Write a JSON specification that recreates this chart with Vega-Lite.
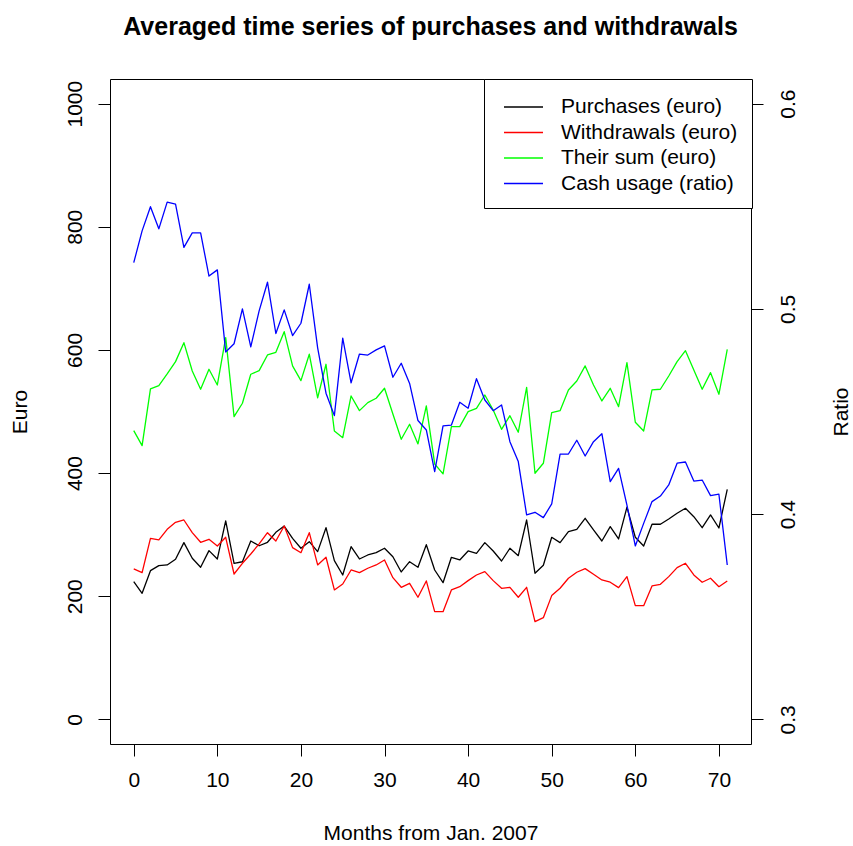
{
  "$schema": "https://vega.github.io/schema/vega-lite/v6.json",
  "width": 641,
  "height": 665,
  "autosize": {"type": "none"},
  "padding": {"left": 110, "top": 79, "right": 102, "bottom": 102},
  "background": "white",
  "title": {
    "text": "Averaged time series of purchases and withdrawals",
    "font": "Liberation Sans",
    "fontSize": 25,
    "fontWeight": "bold",
    "color": "black",
    "anchor": "middle",
    "frame": "group",
    "baseline": "alphabetic",
    "offset": 19
  },
  "config": {
    "view": {"stroke": "black", "strokeWidth": 1},
    "axis": {
      "domain": false,
      "grid": false,
      "ticks": true,
      "tickColor": "black",
      "tickWidth": 1,
      "tickSize": 12,
      "labelFont": "Liberation Sans",
      "labelFontSize": 21,
      "labelColor": "black",
      "titleFont": "Liberation Sans",
      "titleFontSize": 21,
      "titleFontWeight": "normal",
      "titleColor": "black"
    },
    "legend": {
      "orient": "none",
      "legendX": 374,
      "legendY": 0,
      "strokeColor": "black",
      "fillColor": "white",
      "padding": 14,
      "symbolType": "M-1.5,0H1.5",
      "symbolSize": 676,
      "symbolStrokeWidth": 1.3,
      "symbolOffset": 11.5,
      "labelOffset": 23.5,
      "labelFont": "Liberation Sans",
      "labelFontSize": 21,
      "labelColor": "black",
      "labelLimit": 400,
      "rowPadding": 1.5
    }
  },
  "datasets": {
    "euro": [
      {"month": 0, "series": "Purchases (euro)", "value": 223.6},
      {"month": 1, "series": "Purchases (euro)", "value": 204.8},
      {"month": 2, "series": "Purchases (euro)", "value": 241.5},
      {"month": 3, "series": "Purchases (euro)", "value": 249.6},
      {"month": 4, "series": "Purchases (euro)", "value": 250.8},
      {"month": 5, "series": "Purchases (euro)", "value": 260.0},
      {"month": 6, "series": "Purchases (euro)", "value": 287.0},
      {"month": 7, "series": "Purchases (euro)", "value": 261.6},
      {"month": 8, "series": "Purchases (euro)", "value": 247.0},
      {"month": 9, "series": "Purchases (euro)", "value": 274.0},
      {"month": 10, "series": "Purchases (euro)", "value": 260.5},
      {"month": 11, "series": "Purchases (euro)", "value": 322.2},
      {"month": 12, "series": "Purchases (euro)", "value": 253.5},
      {"month": 13, "series": "Purchases (euro)", "value": 256.0},
      {"month": 14, "series": "Purchases (euro)", "value": 289.7},
      {"month": 15, "series": "Purchases (euro)", "value": 282.0},
      {"month": 16, "series": "Purchases (euro)", "value": 287.6},
      {"month": 17, "series": "Purchases (euro)", "value": 303.8},
      {"month": 18, "series": "Purchases (euro)", "value": 314.0},
      {"month": 19, "series": "Purchases (euro)", "value": 294.0},
      {"month": 20, "series": "Purchases (euro)", "value": 277.9},
      {"month": 21, "series": "Purchases (euro)", "value": 288.6},
      {"month": 22, "series": "Purchases (euro)", "value": 272.4},
      {"month": 23, "series": "Purchases (euro)", "value": 311.3},
      {"month": 24, "series": "Purchases (euro)", "value": 257.7},
      {"month": 25, "series": "Purchases (euro)", "value": 234.5},
      {"month": 26, "series": "Purchases (euro)", "value": 280.5},
      {"month": 27, "series": "Purchases (euro)", "value": 260.5},
      {"month": 28, "series": "Purchases (euro)", "value": 267.0},
      {"month": 29, "series": "Purchases (euro)", "value": 270.7},
      {"month": 30, "series": "Purchases (euro)", "value": 277.9},
      {"month": 31, "series": "Purchases (euro)", "value": 264.2},
      {"month": 32, "series": "Purchases (euro)", "value": 239.4},
      {"month": 33, "series": "Purchases (euro)", "value": 256.1},
      {"month": 34, "series": "Purchases (euro)", "value": 247.0},
      {"month": 35, "series": "Purchases (euro)", "value": 283.7},
      {"month": 36, "series": "Purchases (euro)", "value": 242.6},
      {"month": 37, "series": "Purchases (euro)", "value": 222.0},
      {"month": 38, "series": "Purchases (euro)", "value": 263.2},
      {"month": 39, "series": "Purchases (euro)", "value": 258.9},
      {"month": 40, "series": "Purchases (euro)", "value": 273.5},
      {"month": 41, "series": "Purchases (euro)", "value": 269.7},
      {"month": 42, "series": "Purchases (euro)", "value": 287.0},
      {"month": 43, "series": "Purchases (euro)", "value": 273.5},
      {"month": 44, "series": "Purchases (euro)", "value": 257.2},
      {"month": 45, "series": "Purchases (euro)", "value": 277.9},
      {"month": 46, "series": "Purchases (euro)", "value": 265.9},
      {"month": 47, "series": "Purchases (euro)", "value": 323.8},
      {"month": 48, "series": "Purchases (euro)", "value": 237.3},
      {"month": 49, "series": "Purchases (euro)", "value": 250.3},
      {"month": 50, "series": "Purchases (euro)", "value": 295.7},
      {"month": 51, "series": "Purchases (euro)", "value": 287.0},
      {"month": 52, "series": "Purchases (euro)", "value": 304.9},
      {"month": 53, "series": "Purchases (euro)", "value": 308.7},
      {"month": 54, "series": "Purchases (euro)", "value": 326.6},
      {"month": 55, "series": "Purchases (euro)", "value": 307.6},
      {"month": 56, "series": "Purchases (euro)", "value": 289.7},
      {"month": 57, "series": "Purchases (euro)", "value": 313.0},
      {"month": 58, "series": "Purchases (euro)", "value": 293.0},
      {"month": 59, "series": "Purchases (euro)", "value": 344.5},
      {"month": 60, "series": "Purchases (euro)", "value": 295.7},
      {"month": 61, "series": "Purchases (euro)", "value": 281.6},
      {"month": 62, "series": "Purchases (euro)", "value": 316.9},
      {"month": 63, "series": "Purchases (euro)", "value": 316.9},
      {"month": 64, "series": "Purchases (euro)", "value": 325.4},
      {"month": 65, "series": "Purchases (euro)", "value": 334.7},
      {"month": 66, "series": "Purchases (euro)", "value": 342.8},
      {"month": 67, "series": "Purchases (euro)", "value": 329.2},
      {"month": 68, "series": "Purchases (euro)", "value": 311.3},
      {"month": 69, "series": "Purchases (euro)", "value": 332.0},
      {"month": 70, "series": "Purchases (euro)", "value": 310.8},
      {"month": 71, "series": "Purchases (euro)", "value": 373.7},
      {"month": 0, "series": "Withdrawals (euro)", "value": 244.3},
      {"month": 1, "series": "Withdrawals (euro)", "value": 238.3},
      {"month": 2, "series": "Withdrawals (euro)", "value": 294.0},
      {"month": 3, "series": "Withdrawals (euro)", "value": 291.4},
      {"month": 4, "series": "Withdrawals (euro)", "value": 308.7},
      {"month": 5, "series": "Withdrawals (euro)", "value": 320.0},
      {"month": 6, "series": "Withdrawals (euro)", "value": 323.8},
      {"month": 7, "series": "Withdrawals (euro)", "value": 303.2},
      {"month": 8, "series": "Withdrawals (euro)", "value": 287.6},
      {"month": 9, "series": "Withdrawals (euro)", "value": 292.5},
      {"month": 10, "series": "Withdrawals (euro)", "value": 281.6},
      {"month": 11, "series": "Withdrawals (euro)", "value": 295.7},
      {"month": 12, "series": "Withdrawals (euro)", "value": 236.1},
      {"month": 13, "series": "Withdrawals (euro)", "value": 253.5},
      {"month": 14, "series": "Withdrawals (euro)", "value": 268.6},
      {"month": 15, "series": "Withdrawals (euro)", "value": 284.9},
      {"month": 16, "series": "Withdrawals (euro)", "value": 303.2},
      {"month": 17, "series": "Withdrawals (euro)", "value": 289.7},
      {"month": 18, "series": "Withdrawals (euro)", "value": 314.0},
      {"month": 19, "series": "Withdrawals (euro)", "value": 278.9},
      {"month": 20, "series": "Withdrawals (euro)", "value": 270.7},
      {"month": 21, "series": "Withdrawals (euro)", "value": 303.2},
      {"month": 22, "series": "Withdrawals (euro)", "value": 250.8},
      {"month": 23, "series": "Withdrawals (euro)", "value": 263.3},
      {"month": 24, "series": "Withdrawals (euro)", "value": 210.2},
      {"month": 25, "series": "Withdrawals (euro)", "value": 219.9},
      {"month": 26, "series": "Withdrawals (euro)", "value": 242.6},
      {"month": 27, "series": "Withdrawals (euro)", "value": 238.3},
      {"month": 28, "series": "Withdrawals (euro)", "value": 245.4},
      {"month": 29, "series": "Withdrawals (euro)", "value": 250.8},
      {"month": 30, "series": "Withdrawals (euro)", "value": 258.9},
      {"month": 31, "series": "Withdrawals (euro)", "value": 230.1},
      {"month": 32, "series": "Withdrawals (euro)", "value": 214.5},
      {"month": 33, "series": "Withdrawals (euro)", "value": 221.0},
      {"month": 34, "series": "Withdrawals (euro)", "value": 198.3},
      {"month": 35, "series": "Withdrawals (euro)", "value": 224.8},
      {"month": 36, "series": "Withdrawals (euro)", "value": 174.9},
      {"month": 37, "series": "Withdrawals (euro)", "value": 174.9},
      {"month": 38, "series": "Withdrawals (euro)", "value": 210.2},
      {"month": 39, "series": "Withdrawals (euro)", "value": 215.5},
      {"month": 40, "series": "Withdrawals (euro)", "value": 225.3},
      {"month": 41, "series": "Withdrawals (euro)", "value": 234.5},
      {"month": 42, "series": "Withdrawals (euro)", "value": 239.9},
      {"month": 43, "series": "Withdrawals (euro)", "value": 225.3},
      {"month": 44, "series": "Withdrawals (euro)", "value": 212.9},
      {"month": 45, "series": "Withdrawals (euro)", "value": 214.5},
      {"month": 46, "series": "Withdrawals (euro)", "value": 198.3},
      {"month": 47, "series": "Withdrawals (euro)", "value": 214.5},
      {"month": 48, "series": "Withdrawals (euro)", "value": 158.7},
      {"month": 49, "series": "Withdrawals (euro)", "value": 165.2},
      {"month": 50, "series": "Withdrawals (euro)", "value": 201.0},
      {"month": 51, "series": "Withdrawals (euro)", "value": 212.9},
      {"month": 52, "series": "Withdrawals (euro)", "value": 229.2},
      {"month": 53, "series": "Withdrawals (euro)", "value": 238.9},
      {"month": 54, "series": "Withdrawals (euro)", "value": 244.8},
      {"month": 55, "series": "Withdrawals (euro)", "value": 235.7},
      {"month": 56, "series": "Withdrawals (euro)", "value": 226.4},
      {"month": 57, "series": "Withdrawals (euro)", "value": 222.7},
      {"month": 58, "series": "Withdrawals (euro)", "value": 213.9},
      {"month": 59, "series": "Withdrawals (euro)", "value": 231.8},
      {"month": 60, "series": "Withdrawals (euro)", "value": 184.7},
      {"month": 61, "series": "Withdrawals (euro)", "value": 184.7},
      {"month": 62, "series": "Withdrawals (euro)", "value": 216.7},
      {"month": 63, "series": "Withdrawals (euro)", "value": 219.4},
      {"month": 64, "series": "Withdrawals (euro)", "value": 231.8},
      {"month": 65, "series": "Withdrawals (euro)", "value": 246.4},
      {"month": 66, "series": "Withdrawals (euro)", "value": 253.5},
      {"month": 67, "series": "Withdrawals (euro)", "value": 234.5},
      {"month": 68, "series": "Withdrawals (euro)", "value": 222.7},
      {"month": 69, "series": "Withdrawals (euro)", "value": 229.2},
      {"month": 70, "series": "Withdrawals (euro)", "value": 215.5},
      {"month": 71, "series": "Withdrawals (euro)", "value": 224.8},
      {"month": 0, "series": "Their sum (euro)", "value": 468.9},
      {"month": 1, "series": "Their sum (euro)", "value": 444.5},
      {"month": 2, "series": "Their sum (euro)", "value": 536.6},
      {"month": 3, "series": "Their sum (euro)", "value": 542.0},
      {"month": 4, "series": "Their sum (euro)", "value": 561.0},
      {"month": 5, "series": "Their sum (euro)", "value": 581.0},
      {"month": 6, "series": "Their sum (euro)", "value": 611.8},
      {"month": 7, "series": "Their sum (euro)", "value": 565.8},
      {"month": 8, "series": "Their sum (euro)", "value": 536.1},
      {"month": 9, "series": "Their sum (euro)", "value": 568.6},
      {"month": 10, "series": "Their sum (euro)", "value": 543.1},
      {"month": 11, "series": "Their sum (euro)", "value": 620.0},
      {"month": 12, "series": "Their sum (euro)", "value": 491.6},
      {"month": 13, "series": "Their sum (euro)", "value": 513.4},
      {"month": 14, "series": "Their sum (euro)", "value": 560.5},
      {"month": 15, "series": "Their sum (euro)", "value": 566.3},
      {"month": 16, "series": "Their sum (euro)", "value": 591.8},
      {"month": 17, "series": "Their sum (euro)", "value": 596.2},
      {"month": 18, "series": "Their sum (euro)", "value": 629.7},
      {"month": 19, "series": "Their sum (euro)", "value": 574.0},
      {"month": 20, "series": "Their sum (euro)", "value": 550.1},
      {"month": 21, "series": "Their sum (euro)", "value": 593.0},
      {"month": 22, "series": "Their sum (euro)", "value": 522.3},
      {"month": 23, "series": "Their sum (euro)", "value": 576.7},
      {"month": 24, "series": "Their sum (euro)", "value": 468.4},
      {"month": 25, "series": "Their sum (euro)", "value": 457.5},
      {"month": 26, "series": "Their sum (euro)", "value": 525.2},
      {"month": 27, "series": "Their sum (euro)", "value": 501.4},
      {"month": 28, "series": "Their sum (euro)", "value": 514.4},
      {"month": 29, "series": "Their sum (euro)", "value": 521.5},
      {"month": 30, "series": "Their sum (euro)", "value": 537.7},
      {"month": 31, "series": "Their sum (euro)", "value": 496.0},
      {"month": 32, "series": "Their sum (euro)", "value": 454.9},
      {"month": 33, "series": "Their sum (euro)", "value": 479.3},
      {"month": 34, "series": "Their sum (euro)", "value": 447.3},
      {"month": 35, "series": "Their sum (euro)", "value": 509.0},
      {"month": 36, "series": "Their sum (euro)", "value": 414.8},
      {"month": 37, "series": "Their sum (euro)", "value": 398.6},
      {"month": 38, "series": "Their sum (euro)", "value": 475.4},
      {"month": 39, "series": "Their sum (euro)", "value": 475.4},
      {"month": 40, "series": "Their sum (euro)", "value": 499.7},
      {"month": 41, "series": "Their sum (euro)", "value": 505.2},
      {"month": 42, "series": "Their sum (euro)", "value": 526.8},
      {"month": 43, "series": "Their sum (euro)", "value": 502.5},
      {"month": 44, "series": "Their sum (euro)", "value": 471.1},
      {"month": 45, "series": "Their sum (euro)", "value": 493.2},
      {"month": 46, "series": "Their sum (euro)", "value": 466.3},
      {"month": 47, "series": "Their sum (euro)", "value": 539.3},
      {"month": 48, "series": "Their sum (euro)", "value": 399.7},
      {"month": 49, "series": "Their sum (euro)", "value": 415.9},
      {"month": 50, "series": "Their sum (euro)", "value": 498.1},
      {"month": 51, "series": "Their sum (euro)", "value": 501.4},
      {"month": 52, "series": "Their sum (euro)", "value": 535.0},
      {"month": 53, "series": "Their sum (euro)", "value": 549.6},
      {"month": 54, "series": "Their sum (euro)", "value": 574.0},
      {"month": 55, "series": "Their sum (euro)", "value": 543.1},
      {"month": 56, "series": "Their sum (euro)", "value": 517.1},
      {"month": 57, "series": "Their sum (euro)", "value": 537.7},
      {"month": 58, "series": "Their sum (euro)", "value": 507.8},
      {"month": 59, "series": "Their sum (euro)", "value": 579.3},
      {"month": 60, "series": "Their sum (euro)", "value": 482.5},
      {"month": 61, "series": "Their sum (euro)", "value": 468.4},
      {"month": 62, "series": "Their sum (euro)", "value": 535.0},
      {"month": 63, "series": "Their sum (euro)", "value": 536.1},
      {"month": 64, "series": "Their sum (euro)", "value": 557.7},
      {"month": 65, "series": "Their sum (euro)", "value": 581.0},
      {"month": 66, "series": "Their sum (euro)", "value": 598.8},
      {"month": 67, "series": "Their sum (euro)", "value": 567.4},
      {"month": 68, "series": "Their sum (euro)", "value": 536.1},
      {"month": 69, "series": "Their sum (euro)", "value": 563.1},
      {"month": 70, "series": "Their sum (euro)", "value": 528.0},
      {"month": 71, "series": "Their sum (euro)", "value": 601.0}
    ],
    "ratio": [
      {"month": 0, "series": "Cash usage (ratio)", "ratio": 0.5225},
      {"month": 1, "series": "Cash usage (ratio)", "ratio": 0.538},
      {"month": 2, "series": "Cash usage (ratio)", "ratio": 0.5498},
      {"month": 3, "series": "Cash usage (ratio)", "ratio": 0.539},
      {"month": 4, "series": "Cash usage (ratio)", "ratio": 0.552},
      {"month": 5, "series": "Cash usage (ratio)", "ratio": 0.551},
      {"month": 6, "series": "Cash usage (ratio)", "ratio": 0.530},
      {"month": 7, "series": "Cash usage (ratio)", "ratio": 0.537},
      {"month": 8, "series": "Cash usage (ratio)", "ratio": 0.537},
      {"month": 9, "series": "Cash usage (ratio)", "ratio": 0.516},
      {"month": 10, "series": "Cash usage (ratio)", "ratio": 0.519},
      {"month": 11, "series": "Cash usage (ratio)", "ratio": 0.479},
      {"month": 12, "series": "Cash usage (ratio)", "ratio": 0.483},
      {"month": 13, "series": "Cash usage (ratio)", "ratio": 0.500},
      {"month": 14, "series": "Cash usage (ratio)", "ratio": 0.4815},
      {"month": 15, "series": "Cash usage (ratio)", "ratio": 0.499},
      {"month": 16, "series": "Cash usage (ratio)", "ratio": 0.513},
      {"month": 17, "series": "Cash usage (ratio)", "ratio": 0.488},
      {"month": 18, "series": "Cash usage (ratio)", "ratio": 0.4995},
      {"month": 19, "series": "Cash usage (ratio)", "ratio": 0.487},
      {"month": 20, "series": "Cash usage (ratio)", "ratio": 0.493},
      {"month": 21, "series": "Cash usage (ratio)", "ratio": 0.512},
      {"month": 22, "series": "Cash usage (ratio)", "ratio": 0.481},
      {"month": 23, "series": "Cash usage (ratio)", "ratio": 0.4589},
      {"month": 24, "series": "Cash usage (ratio)", "ratio": 0.448},
      {"month": 25, "series": "Cash usage (ratio)", "ratio": 0.4857},
      {"month": 26, "series": "Cash usage (ratio)", "ratio": 0.464},
      {"month": 27, "series": "Cash usage (ratio)", "ratio": 0.478},
      {"month": 28, "series": "Cash usage (ratio)", "ratio": 0.4775},
      {"month": 29, "series": "Cash usage (ratio)", "ratio": 0.480},
      {"month": 30, "series": "Cash usage (ratio)", "ratio": 0.482},
      {"month": 31, "series": "Cash usage (ratio)", "ratio": 0.4667},
      {"month": 32, "series": "Cash usage (ratio)", "ratio": 0.4735},
      {"month": 33, "series": "Cash usage (ratio)", "ratio": 0.4637},
      {"month": 34, "series": "Cash usage (ratio)", "ratio": 0.4456},
      {"month": 35, "series": "Cash usage (ratio)", "ratio": 0.441},
      {"month": 36, "series": "Cash usage (ratio)", "ratio": 0.4207},
      {"month": 37, "series": "Cash usage (ratio)", "ratio": 0.443},
      {"month": 38, "series": "Cash usage (ratio)", "ratio": 0.4434},
      {"month": 39, "series": "Cash usage (ratio)", "ratio": 0.4545},
      {"month": 40, "series": "Cash usage (ratio)", "ratio": 0.4516},
      {"month": 41, "series": "Cash usage (ratio)", "ratio": 0.466},
      {"month": 42, "series": "Cash usage (ratio)", "ratio": 0.4556},
      {"month": 43, "series": "Cash usage (ratio)", "ratio": 0.4504},
      {"month": 44, "series": "Cash usage (ratio)", "ratio": 0.4532},
      {"month": 45, "series": "Cash usage (ratio)", "ratio": 0.4353},
      {"month": 46, "series": "Cash usage (ratio)", "ratio": 0.4256},
      {"month": 47, "series": "Cash usage (ratio)", "ratio": 0.3996},
      {"month": 48, "series": "Cash usage (ratio)", "ratio": 0.4009},
      {"month": 49, "series": "Cash usage (ratio)", "ratio": 0.3983},
      {"month": 50, "series": "Cash usage (ratio)", "ratio": 0.405},
      {"month": 51, "series": "Cash usage (ratio)", "ratio": 0.4292},
      {"month": 52, "series": "Cash usage (ratio)", "ratio": 0.4293},
      {"month": 53, "series": "Cash usage (ratio)", "ratio": 0.436},
      {"month": 54, "series": "Cash usage (ratio)", "ratio": 0.4283},
      {"month": 55, "series": "Cash usage (ratio)", "ratio": 0.4353},
      {"month": 56, "series": "Cash usage (ratio)", "ratio": 0.4392},
      {"month": 57, "series": "Cash usage (ratio)", "ratio": 0.4158},
      {"month": 58, "series": "Cash usage (ratio)", "ratio": 0.4223},
      {"month": 59, "series": "Cash usage (ratio)", "ratio": 0.4044},
      {"month": 60, "series": "Cash usage (ratio)", "ratio": 0.3845},
      {"month": 61, "series": "Cash usage (ratio)", "ratio": 0.3955},
      {"month": 62, "series": "Cash usage (ratio)", "ratio": 0.4061},
      {"month": 63, "series": "Cash usage (ratio)", "ratio": 0.4088},
      {"month": 64, "series": "Cash usage (ratio)", "ratio": 0.4142},
      {"month": 65, "series": "Cash usage (ratio)", "ratio": 0.4248},
      {"month": 66, "series": "Cash usage (ratio)", "ratio": 0.4254},
      {"month": 67, "series": "Cash usage (ratio)", "ratio": 0.4161},
      {"month": 68, "series": "Cash usage (ratio)", "ratio": 0.4166},
      {"month": 69, "series": "Cash usage (ratio)", "ratio": 0.409},
      {"month": 70, "series": "Cash usage (ratio)", "ratio": 0.4097},
      {"month": 71, "series": "Cash usage (ratio)", "ratio": 0.3752}
    ]
  },
  "encoding": {
    "x": {
      "field": "month",
      "type": "quantitative",
      "scale": {"domain": [-2.84, 73.84], "nice": false, "zero": false},
      "axis": {
        "title": "Months from Jan. 2007",
        "values": [0, 10, 20, 30, 40, 50, 60, 70],
        "format": "d",
        "labelPadding": 13,
        "titlePadding": 32,
        "labelFlush": false
      }
    },
    "color": {
      "field": "series",
      "type": "nominal",
      "scale": {
        "domain": ["Purchases (euro)", "Withdrawals (euro)", "Their sum (euro)", "Cash usage (ratio)"],
        "range": ["#000000", "#ff0000", "#00ff00", "#0000ff"]
      },
      "legend": {"title": null}
    }
  },
  "layer": [
    {
      "data": {"name": "euro"},
      "mark": {"type": "line", "strokeWidth": 1.3, "strokeJoin": "round"},
      "encoding": {
        "y": {
          "field": "value",
          "type": "quantitative",
          "scale": {"domain": [-40, 1040], "nice": false, "zero": false},
          "axis": {
            "orient": "left",
            "title": "Euro",
            "values": [0, 200, 400, 600, 800, 1000],
            "format": "d",
            "labelAngle": 270,
            "labelAlign": "center",
            "labelBaseline": "alphabetic",
            "labelPadding": 17,
            "titlePadding": 34,
            "labelFlush": false
          }
        }
      }
    },
    {
      "data": {"name": "ratio"},
      "mark": {"type": "line", "strokeWidth": 1.3, "strokeJoin": "round"},
      "encoding": {
        "y": {
          "field": "ratio",
          "type": "quantitative",
          "scale": {"domain": [0.288, 0.612], "nice": false, "zero": false},
          "axis": {
            "orient": "right",
            "title": "Ratio",
            "values": [0.3, 0.4, 0.5, 0.6],
            "format": ".1f",
            "labelAngle": 270,
            "labelAlign": "center",
            "labelBaseline": "top",
            "labelPadding": 14,
            "titleAngle": 270,
            "titleBaseline": "top",
            "titlePadding": 32,
            "labelFlush": false
          }
        }
      }
    }
  ],
  "resolve": {"scale": {"y": "independent"}}
}
